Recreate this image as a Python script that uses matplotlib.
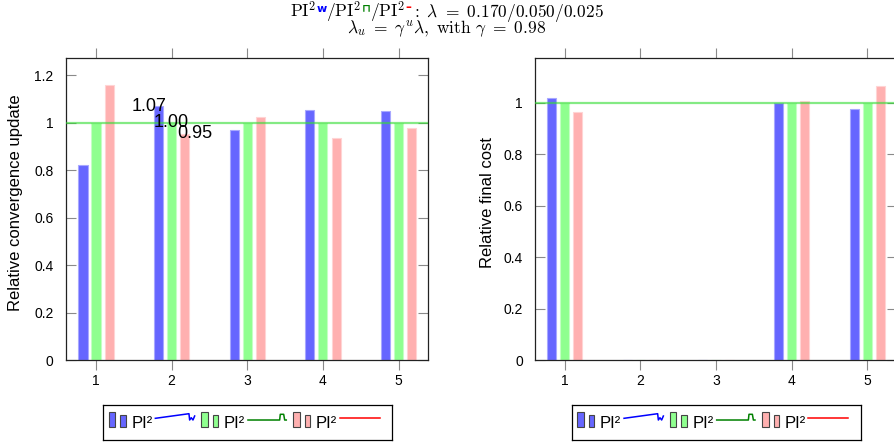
import matplotlib
matplotlib.use("Agg")
import numpy as np
import matplotlib.pyplot as plt
from matplotlib.patches import Rectangle
from matplotlib.ticker import FuncFormatter

plt.rcParams['font.family'] = ['Liberation Sans', 'DejaVu Sans']
plt.rcParams['mathtext.fontset'] = 'cm'

# data
groups = [1, 2, 3, 4, 5]
conv_wave = [0.821, 1.069, 0.970, 1.052, 1.048]
conv_pulse = [1.00, 1.00, 1.00, 1.00, 1.00]
conv_flat = [1.158, 0.952, 1.022, 0.937, 0.977]
cost_wave = [1.017, 0.0, 0.0, 0.998, 0.974]
cost_pulse = [1.00, 0.0, 0.0, 1.00, 1.00]
cost_flat = [0.966, 0.0, 0.0, 1.008, 1.066]
labelled_group = 2  # only this group has its values printed
reference_level = 1.0

fills = ['#6666ff', '#8fff8f', '#ffb0b0']
edges = ['#a8a8ff', '#c4ffc4', '#ffd4d4']
icon_cols = ['#0000ff', '#008000', '#ff0000']
offsets = [-0.172, 0.0, 0.175]
label_dx = [-0.30, 0.0, 0.30]
bar_w = 0.12

fig = plt.figure(figsize=(8.94, 4.45), dpi=100)
ax1 = fig.add_axes([66 / 894, 1 - 360 / 445, 362 / 894, 302 / 445])
ax2 = fig.add_axes([534.7 / 894, 1 - 360 / 445, 362 / 894, 302 / 445])


def style_axes(ax, ymax, ylabel, lab_x, ypad):
    ax.set_xlim(0.603, 5.39)
    ax.set_ylim(0, ymax)
    ax.set_xticks(groups)
    ax.set_yticks(np.arange(0, ymax, 0.2))
    ax.yaxis.set_major_formatter(FuncFormatter(lambda v, p: '%g' % round(v, 2)))
    ax.tick_params(axis='x', direction='out', top=True, length=7, width=0.8,
                   color='#8a8a8a', labelsize=10, pad=3)
    ax.tick_params(axis='y', direction='in', right=True, length=7, width=0.8,
                   color='#8a8a8a', labelsize=10, pad=ypad)
    for sp in ax.spines.values():
        sp.set_linewidth(0.9)
        sp.set_color('#222222')
    ax.set_ylabel(ylabel, fontsize=12)
    ax.yaxis.set_label_coords(lab_x, 0.52)
    ax.axhline(reference_level, color='#33dd33', alpha=0.6, lw=1.6, zorder=3)


def draw_bars(ax, series):
    x = np.array(groups, dtype=float)
    for vals, fc, ec, dx in zip(series, fills, edges, offsets):
        ax.bar(x + dx, vals, width=bar_w, color=fc, edgecolor=ec, lw=0.8, zorder=2)


def draw_legend(ax):
    lax = ax.inset_axes([0.102, -0.265, 0.7986, 0.116])
    lax.set_xlim(0, 289)
    lax.set_ylim(35, 0)
    lax.set_xticks([])
    lax.set_yticks([])
    for sp in lax.spines.values():
        sp.set_linewidth(0.9)
    icons = [
        ([52.4, 86, 86.7, 88.3, 90, 91.7], [13.3, 8.7, 15, 12.7, 15, 11]),
        ([52.7, 84.4, 85, 88.4, 89.4, 91], [15, 15, 9.3, 9.3, 15, 15]),
        ([52.1, 92.1], [12.7, 12.7]),
    ]
    for i, (fc, lc, (ix, iy)) in enumerate(zip(fills, icon_cols, icons)):
        x0 = i * 92.3
        lax.add_patch(Rectangle((x0 + 5.7, 6.7), 6.7, 15, fc=fc, ec='#444444', lw=0.8))
        lax.add_patch(Rectangle((x0 + 17.4, 10), 5.3, 11.7, fc=fc, ec='#444444', lw=0.8))
        lax.text(x0 + 28.4, 23.3, 'PI²', fontsize=12, va='baseline')
        lax.plot(x0 + np.array(ix), iy, color=lc, lw=1.1)


style_axes(ax1, 1.272, 'Relative convergence update', -0.118, 9)
style_axes(ax2, 1.174, 'Relative final cost', -0.11, 8.5)
draw_bars(ax1, [conv_wave, conv_pulse, conv_flat])
draw_bars(ax2, [cost_wave, cost_pulse, cost_flat])

gi = groups.index(labelled_group)
for vals, dx in zip([conv_wave, conv_pulse, conv_flat], label_dx):
    ax1.text(labelled_group + dx, vals[gi], '%.2f' % vals[gi], fontsize=13,
             ha='center', va='center', zorder=5)

draw_legend(ax1)
draw_legend(ax2)


def rich_line(pieces, base_px):
    r = fig.canvas.get_renderer()
    W, H = fig.bbox.width, fig.bbox.height
    items = []
    for s, c, fs, rise, fam, wt in pieces:
        t = fig.text(0, 0, s, color=c, fontsize=fs, va='baseline', ha='left',
                     family=fam, fontweight=wt)
        items.append((t, t.get_window_extent(r).width, rise))
    x = (W - sum(w for _, w, _ in items)) / 2
    for t, w, rise in items:
        t.set_position((x / W, 1 - (base_px - rise) / H))
        x += w


serif = 'DejaVu Serif'
sans = 'DejaVu Sans'
tfs = 12.5
rich_line([
    (r'$\mathrm{PI}^{2}$', 'k', tfs, 0, serif, 'normal'),
    ('w', '#0000ff', 8, 5.5, sans, 'bold'),
    (r'$/\mathrm{PI}^{2}$', 'k', tfs, 0, serif, 'normal'),
    ('⊓', '#008000', 8, 5.5, sans, 'bold'),
    (r'$/\mathrm{PI}^{2}$', 'k', tfs, 0, serif, 'normal'),
    ('–', '#ff0000', 8.5, 5.5, sans, 'bold'),
    (r'$:\ \lambda\ =\ 0.170/0.050/0.025$', 'k', tfs, 0, serif, 'normal'),
], 17)
rich_line([
    (r'$\lambda_u\ =\ \gamma^u\lambda,\ \mathrm{with}\ \gamma\ =\ 0.98$', 'k', tfs, 0, serif, 'normal'),
], 33)

fig.savefig('out.png', dpi=100)
